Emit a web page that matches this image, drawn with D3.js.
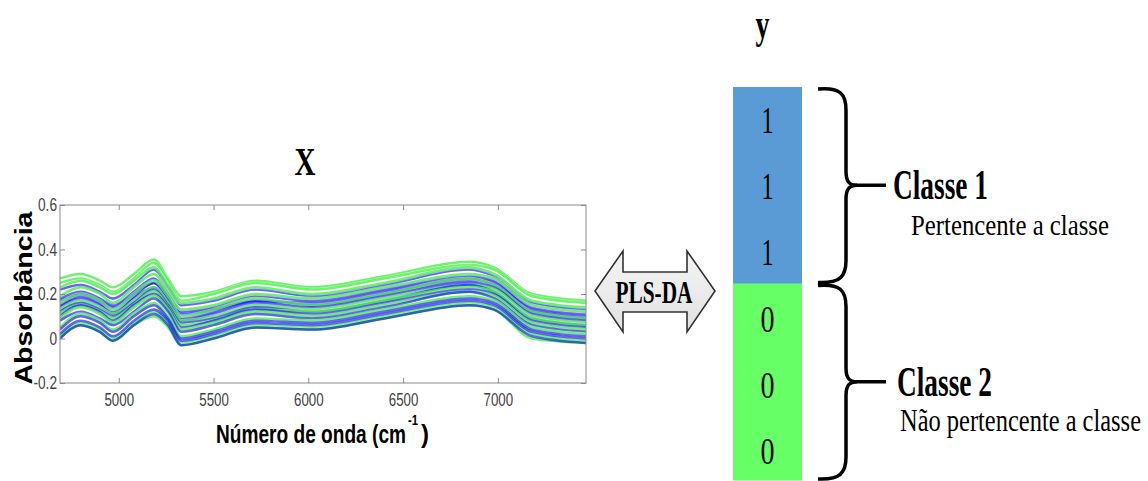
<!DOCTYPE html>
<html>
<head>
<meta charset="utf-8">
<script src="https://cdn.jsdelivr.net/npm/d3@7"></script>
<style>
  body { margin: 0; background: #fff; }
  svg { display: block; }
</style>
</head>
<body>
<svg id="chart" width="1148" height="481"></svg>
<script>
// numero de onda (cm-1) onde os espectros foram lidos
var wavenumbers = [4690, 4800, 4900, 4970, 5080, 5185, 5260, 5330, 5500, 5720, 6020, 6400, 6850, 6980, 7180, 7465];

// espectros verdes
var greenSpectra = [
  [0.27, 0.29, 0.26, 0.23, 0.29, 0.355, 0.27, 0.19, 0.21, 0.26, 0.23, 0.28, 0.345, 0.32, 0.20, 0.17],
  [0.25, 0.27, 0.24, 0.21, 0.27, 0.34, 0.26, 0.17, 0.20, 0.25, 0.22, 0.27, 0.33, 0.31, 0.19, 0.16],
  [0.23, 0.26, 0.23, 0.20, 0.26, 0.32, 0.24, 0.16, 0.18, 0.23, 0.20, 0.25, 0.32, 0.29, 0.17, 0.14],
  [0.19, 0.23, 0.20, 0.16, 0.23, 0.29, 0.21, 0.13, 0.15, 0.20, 0.18, 0.23, 0.29, 0.27, 0.15, 0.12],
  [0.16, 0.20, 0.17, 0.13, 0.20, 0.26, 0.19, 0.10, 0.13, 0.18, 0.15, 0.20, 0.27, 0.24, 0.12, 0.09],
  [0.13, 0.17, 0.14, 0.11, 0.17, 0.23, 0.16, 0.08, 0.10, 0.15, 0.13, 0.18, 0.24, 0.22, 0.10, 0.07],
  [0.11, 0.15, 0.12, 0.09, 0.15, 0.21, 0.14, 0.06, 0.08, 0.13, 0.12, 0.17, 0.23, 0.21, 0.09, 0.06],
  [0.09, 0.14, 0.11, 0.07, 0.14, 0.19, 0.13, 0.04, 0.07, 0.12, 0.10, 0.15, 0.21, 0.19, 0.07, 0.04],
  [0.05, 0.11, 0.08, 0.04, 0.11, 0.16, 0.10, 0.01, 0.04, 0.09, 0.08, 0.13, 0.19, 0.17, 0.05, 0.02],
  [0.01, 0.07, 0.04, 0.00, 0.07, 0.12, 0.07, -0.02, 0.01, 0.06, 0.05, 0.10, 0.16, 0.14, 0.02, -0.01],
  [0.00, 0.06, 0.03, -0.01, 0.06, 0.10, 0.05, -0.03, 0.00, 0.05, 0.04, 0.09, 0.15, 0.13, 0.00, -0.02]
];

// espectros azuis
var blueSpectra = [
  [0.22, 0.24, 0.21, 0.18, 0.24, 0.31, 0.23, 0.15, 0.17, 0.22, 0.19, 0.24, 0.31, 0.28, 0.16, 0.13],
  [0.18, 0.21, 0.18, 0.15, 0.21, 0.27, 0.20, 0.12, 0.14, 0.19, 0.17, 0.22, 0.28, 0.26, 0.14, 0.11],
  [0.17, 0.20, 0.17, 0.14, 0.20, 0.25, 0.19, 0.11, 0.13, 0.17, 0.16, 0.21, 0.27, 0.25, 0.13, 0.10],
  [0.15, 0.19, 0.16, 0.12, 0.19, 0.25, 0.18, 0.09, 0.12, 0.17, 0.15, 0.20, 0.26, 0.24, 0.12, 0.09],
  [0.14, 0.18, 0.15, 0.11, 0.18, 0.23, 0.17, 0.08, 0.11, 0.16, 0.14, 0.19, 0.25, 0.23, 0.11, 0.08],
  [0.12, 0.16, 0.13, 0.10, 0.16, 0.22, 0.15, 0.07, 0.09, 0.14, 0.12, 0.17, 0.24, 0.21, 0.09, 0.06],
  [0.10, 0.15, 0.12, 0.08, 0.15, 0.20, 0.14, 0.05, 0.08, 0.13, 0.11, 0.16, 0.22, 0.20, 0.08, 0.05],
  [0.08, 0.12, 0.09, 0.06, 0.12, 0.18, 0.12, 0.03, 0.06, 0.11, 0.09, 0.14, 0.21, 0.18, 0.06, 0.03],
  [0.04, 0.10, 0.07, 0.03, 0.10, 0.15, 0.09, 0.00, 0.03, 0.08, 0.07, 0.12, 0.18, 0.16, 0.04, 0.01],
  [0.02, 0.08, 0.05, 0.01, 0.08, 0.13, 0.08, -0.01, 0.02, 0.07, 0.06, 0.11, 0.17, 0.15, 0.03, 0.00],
  [0.00, 0.06, 0.03, -0.01, 0.06, 0.11, 0.06, -0.03, 0.00, 0.05, 0.04, 0.09, 0.15, 0.13, 0.01, -0.02]
];

var xTicks = [5000, 5500, 6000, 6500, 7000];
var yTicks = [-0.2, 0, 0.2, 0.4, 0.6];
var yTickLabels = ["-0.2", "0", "0.2", "0.4", "0.6"];

// vetor y (classe)
var classValues = [1, 1, 1, 0, 0, 0];
var classNames = ["Classe 1", "Classe 2"];
var classDescriptions = ["Pertencente a classe", "Não pertencente a classe"];

var sans = "'Liberation Sans', Arial, Helvetica, sans-serif";
var serif = "'Liberation Serif', 'Times New Roman', serif";

var svg = d3.select("#chart");

// ----- grafico dos espectros -----
var x = d3.scaleLinear().domain([4690, 7465]).range([60, 586]);
var y = d3.scaleLinear().domain([-0.2, 0.6]).range([383, 205]);

svg.append("clipPath").attr("id", "plotClip")
  .append("rect")
  .attr("x", x.range()[0]).attr("y", y.range()[1])
  .attr("width", x.range()[1] - x.range()[0])
  .attr("height", y.range()[0] - y.range()[1]);

var line = d3.line()
  .x(function(d, i) { return x(wavenumbers[i]); })
  .y(function(d) { return y(d); })
  .curve(d3.curveMonotoneX);

// intercalar verdes e azuis
var allSpectra = [];
for (var i = 0; i < Math.max(greenSpectra.length, blueSpectra.length); i++) {
  if (greenSpectra[i]) allSpectra.push({ values: greenSpectra[i], color: "#10e810", op: 0.6, halo: true });
  if (blueSpectra[i]) allSpectra.push({ values: blueSpectra[i], color: "#0000ee", op: 0.6, halo: false });
}

var spectraG = svg.append("g").attr("clip-path", "url(#plotClip)");
allSpectra.forEach(function(s) {
  if (s.halo) {
    spectraG.append("path")
      .attr("d", line(s.values))
      .attr("fill", "none")
      .attr("stroke", "#ffffff")
      .attr("stroke-opacity", 0.5)
      .attr("stroke-width", 3.4);
  }
  spectraG.append("path")
    .attr("d", line(s.values))
    .attr("fill", "none")
    .attr("stroke", s.color)
    .attr("stroke-opacity", s.op)
    .attr("stroke-width", 2.5);
});

// eixos (ticks para dentro, estilo MATLAB)
var axisColor = "#8a8a8a";
var gBottom = svg.append("g").attr("transform", "translate(0," + y.range()[0] + ")")
  .call(d3.axisBottom(x).tickValues(xTicks).tickSizeInner(-5).tickSizeOuter(0).tickPadding(10)
    .tickFormat(d3.format("d")));
var gTop = svg.append("g").attr("transform", "translate(0," + y.range()[1] + ")")
  .call(d3.axisTop(x).tickValues(xTicks).tickSizeInner(-5).tickSizeOuter(0).tickFormat(""));
var gLeft = svg.append("g").attr("transform", "translate(" + x.range()[0] + ",0)")
  .call(d3.axisLeft(y).tickValues(yTicks).tickSizeInner(-5).tickSizeOuter(0)
    .tickFormat(function(d, i) { return yTickLabels[i]; }));
var gRight = svg.append("g").attr("transform", "translate(" + x.range()[1] + ",0)")
  .call(d3.axisRight(y).tickValues(yTicks).tickSizeInner(-5).tickSizeOuter(0).tickFormat(""));

[gBottom, gTop, gLeft, gRight].forEach(function(g) {
  g.select(".domain").remove();
  g.selectAll(".tick line").attr("stroke", axisColor);
});

gBottom.selectAll("text")
  .attr("fill", "#444").attr("font-family", sans).attr("font-size", 18)
  .attr("transform", "scale(0.74,1)");
gLeft.selectAll("text")
  .attr("fill", "#444").attr("font-family", sans).attr("font-size", 18)
  .attr("x", 0)
  .attr("transform", "translate(-3,0) scale(0.76,1)");

svg.append("rect")
  .attr("x", x.range()[0]).attr("y", y.range()[1])
  .attr("width", x.range()[1] - x.range()[0])
  .attr("height", y.range()[0] - y.range()[1])
  .attr("fill", "none").attr("stroke", axisColor).attr("stroke-width", 1);

// rotulos dos eixos
svg.append("text")
  .attr("transform", "translate(32,298) rotate(-90)")
  .attr("text-anchor", "middle")
  .attr("font-family", sans).attr("font-weight", "bold").attr("font-size", 23)
  .attr("textLength", 173).attr("lengthAdjust", "spacingAndGlyphs")
  .text("Absorbância");

svg.append("text")
  .attr("x", 216).attr("y", 443)
  .attr("font-family", sans).attr("font-weight", "bold").attr("font-size", 25)
  .attr("textLength", 190).attr("lengthAdjust", "spacingAndGlyphs")
  .text("Número de onda (cm");
svg.append("text")
  .attr("x", 408).attr("y", 425)
  .attr("font-family", sans).attr("font-weight", "bold").attr("font-size", 14)
  .attr("textLength", 10).attr("lengthAdjust", "spacingAndGlyphs")
  .text("-1");
svg.append("text")
  .attr("x", 421).attr("y", 443)
  .attr("font-family", sans).attr("font-weight", "bold").attr("font-size", 25)
  .attr("textLength", 8).attr("lengthAdjust", "spacingAndGlyphs")
  .text(")");

// titulo X
svg.append("text")
  .attr("x", 305).attr("y", 175).attr("text-anchor", "middle")
  .attr("font-family", serif).attr("font-weight", "bold").attr("font-size", 40)
  .attr("textLength", 21).attr("lengthAdjust", "spacingAndGlyphs")
  .text("X");

// ----- seta PLS-DA -----
var arrowPts = [[595, 291], [623, 251], [623, 272], [687, 272], [687, 251], [715, 291],
                [687, 332], [687, 312], [623, 312], [623, 332]];
var defs = svg.append("defs");
var grad = defs.append("linearGradient").attr("id", "arrowGrad")
  .attr("x1", 0).attr("y1", 0).attr("x2", 0).attr("y2", 1);
grad.append("stop").attr("offset", "0%").attr("stop-color", "#f4f4f4");
grad.append("stop").attr("offset", "100%").attr("stop-color", "#e2e2e2");

svg.append("path")
  .attr("d", d3.line()(arrowPts) + "Z")
  .attr("fill", "url(#arrowGrad)")
  .attr("stroke", "#333").attr("stroke-width", 1.6)
  .attr("stroke-linejoin", "miter");

svg.append("text")
  .attr("x", 654).attr("y", 303).attr("text-anchor", "middle")
  .attr("font-family", serif).attr("font-weight", "bold").attr("font-size", 32)
  .attr("textLength", 77).attr("lengthAdjust", "spacingAndGlyphs")
  .text("PLS-DA");

// ----- vetor y -----
var rows = d3.scaleBand().domain(d3.range(classValues.length)).range([87, 480]);
var colX = 733, colW = 69;
var cellColor = d3.scaleOrdinal().domain([1, 0]).range(["#5b9bd5", "#66ff66"]);

svg.append("text")
  .attr("x", colX + colW / 2 - 5).attr("y", 38).attr("text-anchor", "middle")
  .attr("font-family", serif).attr("font-weight", "bold").attr("font-size", 42)
  .attr("textLength", 14).attr("lengthAdjust", "spacingAndGlyphs")
  .text("y");

svg.selectAll(".cell")
  .data(classValues)
  .enter().append("rect")
  .attr("class", "cell")
  .attr("x", colX)
  .attr("y", function(d, i) { return rows(i); })
  .attr("width", colW)
  .attr("height", rows.bandwidth() + 0.5)
  .attr("fill", function(d) { return cellColor(d); });

svg.selectAll(".cellText")
  .data(classValues)
  .enter().append("text")
  .attr("class", "cellText")
  .attr("x", colX + colW / 2)
  .attr("y", function(d, i) { return rows(i) + rows.bandwidth() / 2 + 13 + i * 0.8; })
  .attr("text-anchor", "middle")
  .attr("font-family", serif).attr("font-size", 38)
  .attr("textLength", function(d) { return d === 1 ? 12 : 14; })
  .attr("lengthAdjust", "spacingAndGlyphs")
  .attr("fill", "#000")
  .text(function(d) { return d; });

// chaves e nomes das classes
var groups = [1, 0].map(function(v, k) {
  var idx = classValues.map(function(c, i) { return c === v ? i : -1; }).filter(function(i) { return i >= 0; });
  return {
    top: rows(idx[0]) + 1,
    bottom: rows(idx[idx.length - 1]) + rows.bandwidth() - 1,
    name: classNames[k],
    desc: classDescriptions[k]
  };
});

var braceX0 = 818, braceV = 846, braceTip = 886;
groups.forEach(function(g, k) {
  var mid = (g.top + g.bottom) / 2;
  var p = d3.path();
  p.moveTo(braceX0, g.top + 1);
  p.bezierCurveTo(braceV - 6, g.top - 1, braceV, g.top + 6, braceV, g.top + 22);
  p.lineTo(braceV, mid - 14);
  p.bezierCurveTo(braceV, mid - 4, braceV + 3, mid, braceV + 11, mid);
  p.bezierCurveTo(braceV + 3, mid, braceV, mid + 4, braceV, mid + 14);
  p.lineTo(braceV, g.bottom - 22);
  p.bezierCurveTo(braceV, g.bottom - 6, braceV - 6, g.bottom + 1, braceX0, g.bottom);
  svg.append("path").attr("d", p.toString())
    .attr("fill", "none").attr("stroke", "#000").attr("stroke-width", 3.5);
  svg.append("line")
    .attr("x1", braceV + 8).attr("x2", braceTip)
    .attr("y1", mid).attr("y2", mid)
    .attr("stroke", "#000").attr("stroke-width", 3.5);

  svg.append("text")
    .attr("x", braceTip + 7 + k * 4).attr("y", mid + 14)
    .attr("font-family", serif).attr("font-weight", "bold").attr("font-size", 42)
    .attr("textLength", 95).attr("lengthAdjust", "spacingAndGlyphs")
    .text(g.name);
  svg.append("text")
    .attr("x", k === 0 ? 911 : 900).attr("y", mid + (k === 0 ? 50 : 49))
    .attr("font-family", serif).attr("font-size", k === 0 ? 30 : 31)
    .attr("textLength", k === 0 ? 198 : 241).attr("lengthAdjust", "spacingAndGlyphs")
    .text(g.desc);
});
</script>
</body>
</html>
